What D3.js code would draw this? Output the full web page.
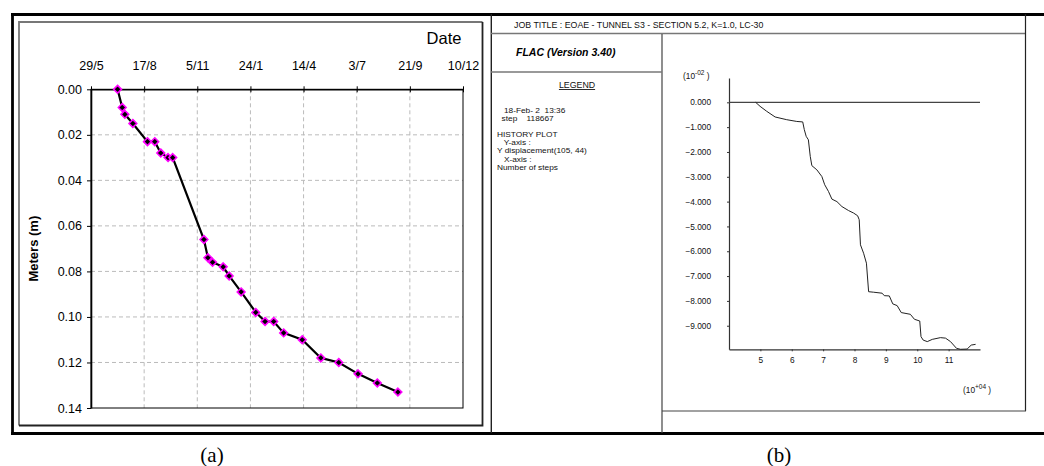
<!DOCTYPE html>
<html><head><meta charset="utf-8">
<script src="https://cdn.jsdelivr.net/npm/d3@7"></script>
<style>
html,body{margin:0;padding:0;background:#fff;}
svg{display:block;font-family:"Liberation Sans",Arial,sans-serif;}
</style></head>
<body><svg id="c" width="1044" height="466"></svg>
<script>
// ---------- Data: (a) field measurements ----------
const measDates = ["8/7/2001","15/7/2001","19/7/2001","31/7/2001","22/8/2001","2/9/2001","11/9/2001","22/9/2001","29/9/2001",
  "15/11/2001","21/11/2001","28/11/2001","14/12/2001","23/12/2001","10/1/2002","1/2/2002","15/2/2002","28/2/2002",
  "15/3/2002","12/4/2002","10/5/2002","6/6/2002","5/7/2002","3/8/2002","3/9/2002"];
const measValues = [0.000,0.008,0.011,0.015,0.023,0.023,0.028,0.030,0.030,
  0.066,0.074,0.076,0.078,0.082,0.089,0.098,0.102,0.102,
  0.107,0.110,0.118,0.120,0.125,0.129,0.133];
const dateTicks = ["29/5/2001","17/8/2001","5/11/2001","24/1/2002","14/4/2002","3/7/2002","21/9/2002","10/12/2002"];
const meterTicks = [0,0.02,0.04,0.06,0.08,0.10,0.12,0.14];

// ---------- Data: (b) FLAC history ----------
const flacSteps = [4.85,4.99,5.20,5.47,5.84,6.16,6.35,6.40,6.46,6.53,6.59,6.64,6.80,6.96,7.05,7.17,7.28,7.44,7.60,7.81,7.97,8.10,8.15,
  8.19,8.29,8.38,8.45,8.61,8.88,8.95,9.11,9.22,9.36,9.49,9.78,9.91,10.08,10.12,10.19,10.32,10.48,10.74,10.90,11.06,11.25,11.38,11.59,11.72,11.86];
const flacDisp = [0,-0.16,-0.36,-0.59,-0.70,-0.77,-0.79,-1.10,-1.37,-1.51,-2.18,-2.55,-2.72,-2.99,-3.32,-3.59,-3.90,-4.00,-4.20,-4.36,-4.46,-4.57,-4.73,
  -5.74,-6.08,-6.48,-7.63,-7.65,-7.69,-7.79,-7.80,-8.12,-8.19,-8.47,-8.54,-8.74,-8.81,-9.44,-9.58,-9.64,-9.55,-9.48,-9.50,-9.64,-9.91,-9.95,-9.94,-9.78,-9.75];
const flacYTicks = [0,-1,-2,-3,-4,-5,-6,-7,-8,-9];
const flacXTicks = [5,6,7,8,9,10,11];
const legendLines = ["   18-Feb- 2  13:36","  step    118667","","HISTORY PLOT","   Y-axis :","Y displacement(105, 44)","   X-axis :","Number of steps"];

const svg = d3.select("#c");
const parse = d3.timeParse("%d/%m/%Y");

// ---------- frames ----------
const frame = svg.append("g").attr("fill","none");
frame.append("line").attr("x1",11).attr("x2",1044).attr("y1",14.5).attr("y2",14.5).attr("stroke","#000").attr("stroke-width",2.8);
frame.append("line").attr("x1",11).attr("x2",1044).attr("y1",433.5).attr("y2",433.5).attr("stroke","#000").attr("stroke-width",2.8);
frame.append("line").attr("x1",12.5).attr("x2",12.5).attr("y1",14).attr("y2",434).attr("stroke","#000").attr("stroke-width",2.8);
frame.append("path").attr("d","M19,425.5 V22 H482.5").attr("stroke","#777").attr("stroke-width",1.8);
frame.append("path").attr("d","M482.5,22 V425.5 H19").attr("stroke","#222").attr("stroke-width",1.8);
frame.append("line").attr("x1",491.3).attr("x2",491.3).attr("y1",14).attr("y2",433).attr("stroke","#222").attr("stroke-width",1.4);
// right panel boxes
frame.append("line").attr("x1",491).attr("x2",1025).attr("y1",33.5).attr("y2",33.5).attr("stroke","#777").attr("stroke-width",1.3);
frame.append("line").attr("x1",1025.5).attr("x2",1025.5).attr("y1",14).attr("y2",411).attr("stroke","#222").attr("stroke-width",1.2);
frame.append("line").attr("x1",662).attr("x2",1026).attr("y1",411).attr("y2",411).attr("stroke","#444").attr("stroke-width",1.2);
frame.append("line").attr("x1",662).attr("x2",662).attr("y1",34).attr("y2",433).attr("stroke","#444").attr("stroke-width",1.2);
frame.append("line").attr("x1",491).attr("x2",662).attr("y1",72).attr("y2",72).attr("stroke","#777").attr("stroke-width",1.3);

// ---------- (a) chart ----------
const xL = d3.scaleTime().domain([parse(dateTicks[0]), parse(dateTicks[dateTicks.length-1])]).range([91,463]);
const yL = d3.scaleLinear().domain([0,0.14]).range([89.3,408]);
const gA = svg.append("g");
gA.selectAll(".vg").data(dateTicks.slice(1,-1)).join("line")
  .attr("x1",d=>xL(parse(d))).attr("x2",d=>xL(parse(d))).attr("y1",yL(0)).attr("y2",yL(0.14))
  .attr("stroke","#bbb").attr("stroke-dasharray","4,3");
gA.selectAll(".hg").data(meterTicks.slice(1,-1)).join("line")
  .attr("x1",xL.range()[0]).attr("x2",xL.range()[1]).attr("y1",d=>yL(d)).attr("y2",d=>yL(d))
  .attr("stroke","#bbb").attr("stroke-dasharray","4,3");
gA.append("rect").attr("x",xL.range()[0]).attr("y",yL(0)).attr("width",xL.range()[1]-xL.range()[0]).attr("height",yL(0.14)-yL(0))
  .attr("fill","none").attr("stroke","#000").attr("stroke-width",1);
const axT = gA.append("g").attr("transform",`translate(0,${yL(0)})`)
  .call(d3.axisTop(xL).tickValues(dateTicks.map(parse)).tickFormat(d3.timeFormat("%-d/%-m")).tickSizeInner(3).tickSizeOuter(0).tickPadding(16));
axT.select(".domain").attr("stroke","#000").attr("stroke-width",1.6);
axT.selectAll(".tick line").attr("y2",-3).attr("y1",3).attr("stroke","#000");
axT.selectAll("text").attr("font-size",12.5).attr("fill","#000").attr("font-family","Liberation Sans, Arial, sans-serif");
const axL = gA.append("g").attr("transform",`translate(${xL.range()[0]},0)`)
  .call(d3.axisLeft(yL).tickValues(meterTicks).tickFormat(d3.format(".2f")).tickSizeInner(4).tickSizeOuter(0).tickPadding(5));
axL.select(".domain").attr("stroke","#000").attr("stroke-width",1.6);
axL.selectAll("text").attr("font-size",12.5).attr("fill","#000").attr("font-family","Liberation Sans, Arial, sans-serif");
gA.append("text").attr("x",444).attr("y",44).attr("text-anchor","middle").attr("font-size",16.5).text("Date");
gA.append("text").attr("transform",`translate(38,${(yL(0)+yL(0.14))/2}) rotate(-90)`).attr("text-anchor","middle")
  .attr("font-size",13).attr("font-weight","bold").text("Meters (m)");
const meas = measDates.map((d,i)=>({t:parse(d),v:measValues[i]}));
gA.append("path").datum(meas).attr("fill","none").attr("stroke","#000").attr("stroke-width",2.2)
  .attr("d",d3.line().x(d=>xL(d.t)).y(d=>yL(d.v)));
gA.selectAll(".mk").data(meas).join("path")
  .attr("transform",d=>`translate(${xL(d.t)},${yL(d.v)})`)
  .attr("d",d3.symbol(d3.symbolDiamond2,38)).attr("fill","#000").attr("stroke","#ff00ff").attr("stroke-width",1.6);

// ---------- (b) panel texts ----------
const gB = svg.append("g").attr("font-family","Liberation Sans, Arial, sans-serif").attr("fill","#111");
gB.append("text").attr("x",514).attr("y",28).attr("font-size",8.8).text("JOB TITLE :  EOAE - TUNNEL S3 - SECTION 5.2, K=1.0, LC-30");
gB.append("text").attr("x",516).attr("y",56).attr("font-size",10.5).attr("font-weight","bold").attr("font-style","italic").attr("fill","#000").text("FLAC (Version 3.40)");
gB.append("text").attr("x",577).attr("y",88).attr("font-size",8.8).attr("text-anchor","middle").attr("text-decoration","underline").text("LEGEND");
const gLeg = gB.append("g").attr("transform","translate(497,0) scale(1.14,1)");
gLeg.selectAll(".lg").data(legendLines).join("text")
  .attr("x",0).attr("y",(d,i)=>113+i*8.1).attr("font-size",7.3).attr("xml:space","preserve").style("white-space","pre").text(d=>d);

// ---------- (b) chart ----------
const xR = d3.scaleLinear().domain([4,12]).range([729,980]);
const yR = d3.scaleLinear().domain([-9.95,0.98]).range([349.3,78]);
const ayR = gB.append("g").attr("transform",`translate(${xR(4)},0)`)
  .call(d3.axisLeft(yR).tickValues(flacYTicks).tickFormat(d3.format(".3f")).tickSizeInner(2).tickSizeOuter(0).tickPadding(16));
ayR.select(".domain").attr("stroke","#333").attr("stroke-width",1.2);
ayR.selectAll(".tick line").attr("stroke","#333");
ayR.selectAll("text").attr("font-size",8.3).attr("fill","#111");
const axR = gB.append("g").attr("transform",`translate(0,${yR(-9.95)})`)
  .call(d3.axisBottom(xR).tickValues(flacXTicks).tickFormat(d3.format("d")).tickSizeInner(2).tickSizeOuter(0).tickPadding(6));
axR.select(".domain").attr("stroke","#333").attr("stroke-width",1.2);
axR.selectAll(".tick line").attr("stroke","#333");
axR.selectAll("text").attr("font-size",8.3).attr("fill","#111");
gB.append("line").attr("x1",xR(4)).attr("x2",xR(12)).attr("y1",yR(0)).attr("y2",yR(0)).attr("stroke","#444").attr("stroke-width",1.2);
const hist = flacSteps.map((s,i)=>({s,v:flacDisp[i]}));
gB.append("path").datum(hist).attr("fill","none").attr("stroke","#222").attr("stroke-width",1)
  .attr("d",d3.line().x(d=>xR(d.s)).y(d=>yR(d.v)));
const e1 = gB.append("text").attr("x",683).attr("y",79).attr("font-size",8.3);
e1.append("tspan").text("(10");
e1.append("tspan").attr("dy",-4).attr("font-size",6.5).text("-02");
e1.append("tspan").attr("dy",4).text("  )");
const e2 = gB.append("text").attr("x",963).attr("y",393).attr("font-size",8.3);
e2.append("tspan").text("(10");
e2.append("tspan").attr("dy",-4).attr("font-size",6.5).text("+04");
e2.append("tspan").attr("dy",4).text("  )");

// ---------- captions ----------
svg.append("text").attr("x",212).attr("y",462).attr("text-anchor","middle").attr("font-family","Liberation Serif, Times New Roman, serif").attr("font-size",21).text("(a)");
svg.append("text").attr("x",779).attr("y",462).attr("text-anchor","middle").attr("font-family","Liberation Serif, Times New Roman, serif").attr("font-size",21).text("(b)");
</script></body></html>
